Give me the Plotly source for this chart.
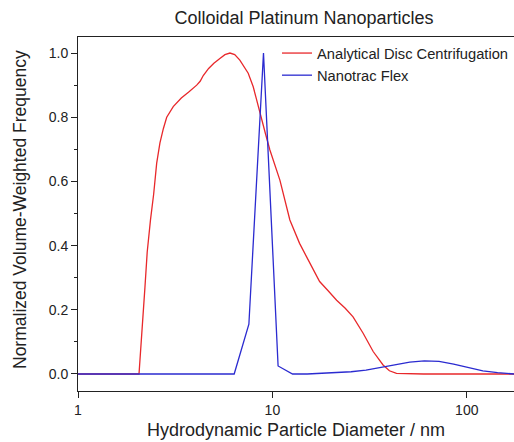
import plotly.graph_objects as go

# Analytical Disc Centrifugation (red)
adc_x = [1.0, 2.06, 2.21, 2.27, 2.36, 2.45, 2.54, 2.64, 2.75, 2.86, 3.09, 3.4, 3.7, 3.92, 4.08, 4.25, 4.41, 4.7, 5.0, 5.37, 5.7, 6.05, 6.4, 6.8, 7.51, 7.97, 8.62, 9.2, 9.71, 10.3, 10.93, 12.3, 13.8, 15.0, 16.2, 17.5, 19.3, 21.4, 23.7, 26.0, 29.3, 33.0, 37.1, 40.0, 43.5, 60.0, 100.0, 175.0]
adc_y = [0.0, 0.0, 0.27, 0.38, 0.48, 0.56, 0.657, 0.72, 0.765, 0.80, 0.833, 0.86, 0.878, 0.89, 0.90, 0.912, 0.93, 0.952, 0.968, 0.983, 0.995, 1.0, 0.995, 0.978, 0.937, 0.895, 0.812, 0.75, 0.698, 0.65, 0.604, 0.48, 0.407, 0.365, 0.325, 0.288, 0.26, 0.23, 0.205, 0.178, 0.127, 0.07, 0.028, 0.01, 0.002, 0.0, 0.0, 0.0]

# Nanotrac Flex (blue)
ntf_x = [1.0, 6.36, 7.57, 9.0, 10.7, 12.7, 15.1, 18.0, 21.4, 25.4, 30.3, 36.0, 42.8, 50.9, 60.5, 72.0, 85.6, 101.8, 121.0, 144.0, 171.0, 175.0]
ntf_y = [0.0, 0.0, 0.155, 1.0, 0.025, 0.0, 0.0, 0.002, 0.004, 0.007, 0.012, 0.021, 0.03, 0.037, 0.041, 0.039, 0.031, 0.02, 0.01, 0.004, 0.0, 0.0]

x_major = [1, 10, 100]
x_minor = [2, 3, 4, 5, 6, 7, 8, 9, 20, 30, 40, 50, 60, 70, 80, 90]
y_major = [0, 0.2, 0.4, 0.6, 0.8, 1.0]
y_labels = ["0.0", "0.2", "0.4", "0.6", "0.8", "1.0"]

FONT = "Liberation Sans, Arial, sans-serif"
INK = "#222"
XR = [0, 2.243]
W, H = 514, 442

fig = go.Figure()
fig.add_trace(go.Scatter(x=adc_x, y=adc_y, mode="lines", name="Analytical Disc Centrifugation",
                         line=dict(color="#e8282b", width=1.3)))
fig.add_trace(go.Scatter(x=ntf_x, y=ntf_y, mode="lines", name="Nanotrac Flex",
                         line=dict(color="#2b2bd0", width=1.3)))

fig.update_layout(
    width=W, height=H,
    margin=dict(l=78, r=0, t=37, b=51, autoexpand=False),
    paper_bgcolor="white", plot_bgcolor="white",
    title=dict(text="Colloidal Platinum Nanoparticles", x=304 / W, xanchor="center",
               y=1 - 18 / H, yanchor="middle", xref="container", yref="container",
               font=dict(family=FONT, size=18, color=INK)),
    legend=dict(x=(277 - 78) / 436, y=1.0, xanchor="left", yanchor="top", bgcolor="rgba(0,0,0,0)",
                font=dict(family=FONT, size=14.7, color=INK), tracegroupgap=0),
    xaxis=dict(type="log", range=XR, tickvals=x_major, ticktext=["1", "10", "100"],
               showgrid=False, zeroline=False, showline=True, mirror=True,
               linecolor=INK, linewidth=1, ticks="outside", ticklen=6, tickcolor=INK,
               tickfont=dict(family=FONT, size=14, color=INK), automargin=False),
    xaxis2=dict(type="log", range=XR, overlaying="x", anchor="y", side="bottom",
                tickvals=x_minor, showticklabels=False, ticks="outside", ticklen=3,
                tickcolor=INK, showgrid=False, zeroline=False, showline=False, automargin=False),
    yaxis=dict(range=[-0.053, 1.05], tickvals=y_major, ticktext=y_labels,
               showgrid=False, zeroline=False, showline=True, linecolor=INK, linewidth=1,
               ticks="outside", ticklen=6, tickcolor=INK,
               minor=dict(ticks="outside", ticklen=3, dtick=0.1, tick0=0, tickcolor=INK),
               tickfont=dict(family=FONT, size=14, color=INK), automargin=False),
    annotations=[
        dict(text="Hydrodynamic Particle Diameter / nm", xref="paper", yref="paper",
             x=0.5, y=0, xanchor="center", yanchor="middle", yshift=-39, showarrow=False,
             font=dict(family=FONT, size=18, color=INK)),
        dict(text="Normalized Volume-Weighted Frequency", xref="paper", yref="paper",
             x=0, y=0.5, xanchor="center", yanchor="middle", xshift=-58, yshift=4,
             textangle=-90, showarrow=False, font=dict(family=FONT, size=17.5, color=INK)),
    ],
)

fig.write_html(
    "out.html",
    config={"displayModeBar": False},
    post_script="document.body.style.margin='0';document.documentElement.style.overflow='hidden';document.body.style.overflow='hidden';",
)
